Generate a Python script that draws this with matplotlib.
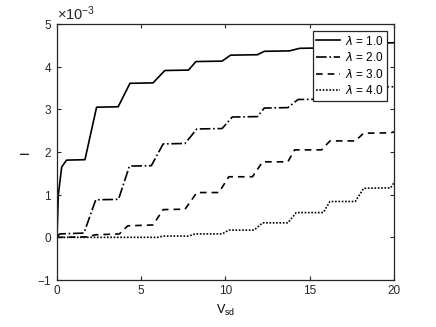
import numpy as np
import matplotlib
matplotlib.use('Agg')
import matplotlib.pyplot as plt

plt.rcParams['font.family'] = ['Liberation Sans', 'DejaVu Sans']
plt.rcParams['mathtext.fontset'] = 'custom'
plt.rcParams['mathtext.rm'] = 'Liberation Sans'

# 값은 그림에서 읽은 것 (I 단위: 1e-3)
v1 = [0, 0.08, 0.28, 0.57, 1.66, 2.35, 3.63, 4.33, 5.7, 6.4, 7.8, 8.25, 9.8, 10.3, 11.9, 12.3, 13.8, 14.4, 15.8, 16.2, 17.8, 18.2, 20]
i1 = [0, 1.0, 1.65, 1.81, 1.82, 3.05, 3.06, 3.61, 3.62, 3.91, 3.92, 4.12, 4.13, 4.27, 4.28, 4.36, 4.37, 4.43, 4.44, 4.5, 4.5, 4.55, 4.56]

v2 = [0, 0.15, 1.6, 2.3, 3.65, 4.3, 5.6, 6.3, 7.6, 8.3, 9.8, 10.4, 11.9, 12.3, 13.7, 14.3, 15.8, 16.3, 17.8, 18.3, 20]
i2 = [0, 0.08, 0.1, 0.88, 0.89, 1.67, 1.68, 2.19, 2.2, 2.54, 2.55, 2.82, 2.83, 3.03, 3.04, 3.23, 3.24, 3.4, 3.41, 3.52, 3.53]

v3 = [0, 1.7, 2.3, 3.7, 4.2, 5.7, 6.3, 7.6, 8.3, 9.6, 10.2, 11.6, 12.2, 13.7, 14.1, 15.7, 16.2, 17.7, 18.2, 19.8, 20]
i3 = [0, 0.01, 0.06, 0.08, 0.27, 0.29, 0.65, 0.66, 1.05, 1.05, 1.42, 1.42, 1.77, 1.77, 2.05, 2.05, 2.26, 2.26, 2.44, 2.45, 2.47]

v4 = [0, 6.0, 6.3, 7.8, 8.2, 9.8, 10.2, 11.7, 12.2, 13.7, 14.2, 15.8, 16.2, 17.7, 18.2, 19.8, 20]
i4 = [0, 0, 0.03, 0.03, 0.08, 0.08, 0.17, 0.17, 0.34, 0.34, 0.58, 0.58, 0.84, 0.84, 1.15, 1.16, 1.28]

labels = [r'$\lambda$ = 1.0', r'$\lambda$ = 2.0', r'$\lambda$ = 3.0', r'$\lambda$ = 4.0']

fig = plt.figure(figsize=(4.36, 3.27), dpi=100)
ax = fig.add_axes([0.1307, 0.1437, 0.773, 0.7829])

k = 1e-3
ax.plot(v1, np.array(i1) * k, '-', color='k', lw=1.2, label=labels[0])
ax.plot(v2, np.array(i2) * k, '-.', color='k', lw=1.2, label=labels[1])
ax.plot(v3, np.array(i3) * k, '--', color='k', lw=1.2, dashes=(4, 3), label=labels[2])
ax.plot(v4, np.array(i4) * k, ':', color='k', lw=1.2, dashes=(1, 1), label=labels[3])

ax.set_xlim(0, 20)
ax.set_ylim(-1e-3, 5e-3)
ax.set_xticks([0, 5, 10, 15, 20])
ax.set_yticks(np.arange(-1, 6) * k)
ax.ticklabel_format(axis='y', style='sci', scilimits=(0, 0), useMathText=True)
ax.yaxis.get_offset_text().set_fontsize(10.5)

ax.tick_params(direction='in', top=True, right=True, labelsize=8.5, length=3, width=0.8, colors='#262626')
for s in ax.spines.values():
    s.set_linewidth(0.9)
    s.set_color('#262626')

ax.set_xlabel(r'V$_{\mathrm{sd}}$', fontsize=9)
ax.set_ylabel('I', fontsize=9)

leg = ax.legend(loc='upper right', fontsize=8.5, fancybox=False, framealpha=1,
                edgecolor='#262626', handlelength=2.0, borderpad=0.3,
                labelspacing=0.3, handletextpad=0.4, borderaxespad=0.6)
leg.get_frame().set_linewidth(0.9)

fig.savefig('out.png', dpi=100)
